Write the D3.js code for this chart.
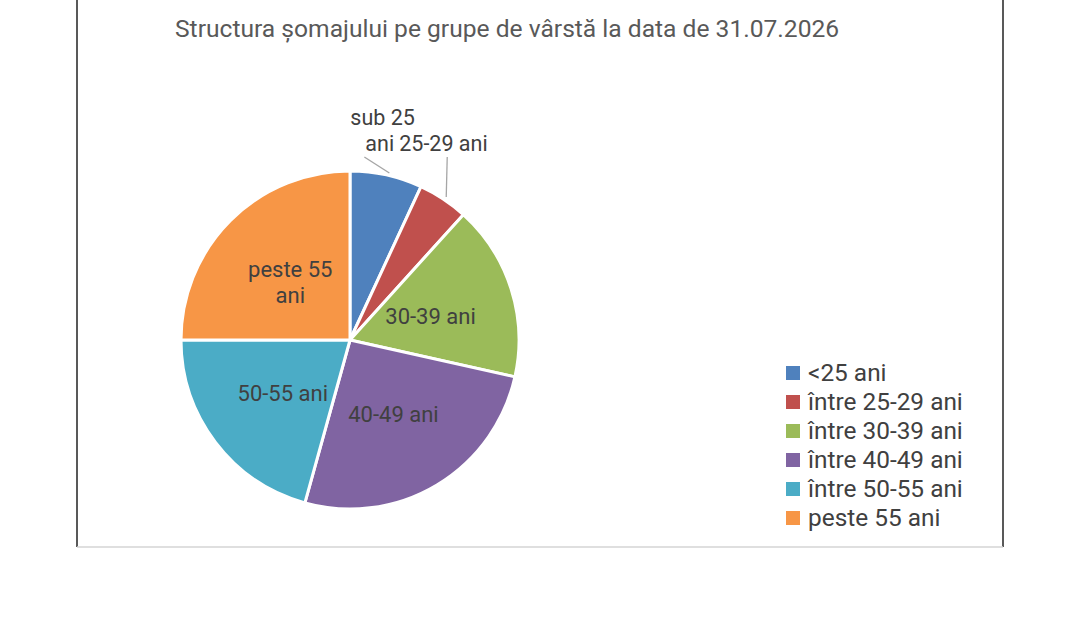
<!DOCTYPE html>
<html>
<head>
<meta charset="utf-8">
<script src="https://cdn.jsdelivr.net/npm/d3@7"></script>
<style>
  html, body { margin: 0; padding: 0; background: #fff; }
  svg { display: block; font-family: Roboto, "Noto Sans", sans-serif; }
</style>
</head>
<body>
<svg id="chart" width="1080" height="632"></svg>
<script>
const title = "Structura șomajului pe grupe de vârstă la data de 31.07.2026";
const categories = ["<25 ani", "între 25-29 ani", "între 30-39 ani", "între 40-49 ani", "între 50-55 ani", "peste 55 ani"];
const sliceLabels = [["sub 25", "ani"], ["25-29 ani"], ["30-39 ani"], ["40-49 ani"], ["50-55 ani"], ["peste 55", "ani"]];
const values = [6.9, 4.8, 16.8, 25.8, 20.7, 25.0];
const colors = ["#4f81bd", "#c0504d", "#9bbb59", "#8064a2", "#4bacc6", "#f79646"];

const svg = d3.select("#chart");

// frame
svg.append("line").attr("x1", 77).attr("x2", 77).attr("y1", 0).attr("y2", 547)
  .attr("stroke", "#222").attr("stroke-width", 1.5);
svg.append("line").attr("x1", 1003).attr("x2", 1003).attr("y1", 0).attr("y2", 547)
  .attr("stroke", "#222").attr("stroke-width", 1.5);
svg.append("line").attr("x1", 77).attr("x2", 1003).attr("y1", 547).attr("y2", 547)
  .attr("stroke", "#d4d4d4").attr("stroke-width", 1.5);

// title
svg.append("text").attr("x", 175).attr("y", 37)
  .attr("font-size", 24.6).attr("fill", "#595959").text(title);

const cx = 350, cy = 340, R = 169;
const pie = d3.pie().sort(null).value(d => d)(values);
const arc = d3.arc().innerRadius(0).outerRadius(R);
const labelArc = d3.arc().innerRadius(R * 0.5).outerRadius(R * 0.5);
const edgeArc = d3.arc().innerRadius(R).outerRadius(R);

const g = svg.append("g").attr("transform", `translate(${cx},${cy})`);
g.selectAll("path.slice").data(pie).join("path")
  .attr("class", "slice")
  .attr("d", arc)
  .attr("fill", (d, i) => colors[i])
  .attr("stroke", "#fff").attr("stroke-width", 3).attr("stroke-linejoin", "round");

// inside labels (slices 2..5)
pie.forEach((d, i) => {
  if (i < 2) return;
  const [x, y] = labelArc.centroid(d);
  const lines = sliceLabels[i];
  const t = g.append("text").attr("text-anchor", "middle")
    .attr("font-size", 22).attr("fill", "#404040");
  lines.forEach((ln, k) => {
    t.append("tspan").attr("x", x).attr("y", y + 10 + (k - (lines.length - 1) / 2) * 26).text(ln);
  });
});

// outside labels with leader lines for small slices
const outside = [
  { idx: 0, end: [-22, -18], text: [[-36, -50, sliceLabels[0][0]], [-21, -24, sliceLabels[0][1]]] },
  { idx: 1, end: [4, -42], text: [[-44, -48, sliceLabels[1][0]]] }
];
outside.forEach(o => {
  const d = pie[o.idx];
  const [x0, y0] = edgeArc.centroid(d);
  const ex = x0 + o.end[0], ey = y0 + o.end[1];
  g.append("line").attr("x1", x0 + 3).attr("y1", y0 - 2).attr("x2", ex).attr("y2", ey)
    .attr("stroke", "#a6a6a6").attr("stroke-width", 1.3);
  o.text.forEach(([dx, dy, s]) => {
    g.append("text").attr("x", x0 + dx).attr("y", y0 + dy)
      .attr("text-anchor", "start").attr("font-size", 21.5).attr("fill", "#404040").text(s);
  });
});

// legend
const legend = svg.append("g").attr("transform", "translate(786,366)");
categories.forEach((c, i) => {
  const row = legend.append("g").attr("transform", `translate(0,${i * 29})`);
  row.append("rect").attr("width", 14).attr("height", 14).attr("fill", colors[i]);
  row.append("text").attr("x", 22).attr("y", 15).attr("font-size", 24.4)
    .attr("fill", "#404040").text(c);
});
</script>
</body>
</html>
